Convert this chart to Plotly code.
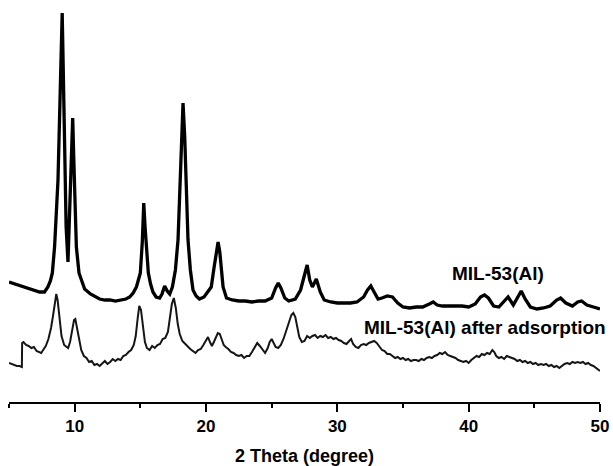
import plotly.graph_objects as go

# MIL-53(Al) pattern: (2theta, intensity a.u.)
mil53 = [
    (5.0, 120), (5.5, 118), (6.0, 116), (6.5, 114), (7.0, 112), (7.33, 110), (7.7, 110),
    (7.96, 115), (8.15, 121), (8.3, 129), (8.47, 155), (8.6, 185), (8.73, 222), (8.88, 300),
    (9.0, 385), (9.05, 389), (9.12, 340), (9.24, 222), (9.35, 175), (9.49, 140), (9.6, 185),
    (9.72, 250), (9.85, 284), (9.94, 240), (10.05, 200), (10.13, 155), (10.33, 129),
    (10.55, 120), (10.76, 113), (11.2, 108), (11.6, 105), (11.9, 103), (12.3, 102),
    (12.7, 102), (13.1, 101), (13.5, 102), (13.9, 103), (14.19, 105), (14.45, 109),
    (14.7, 115), (14.88, 122), (15.0, 129), (15.15, 160), (15.26, 199), (15.36, 175),
    (15.46, 155), (15.61, 129), (15.78, 118), (15.96, 110), (16.2, 105), (16.47, 104),
    (16.65, 108), (16.85, 116), (17.05, 111), (17.24, 108), (17.44, 115), (17.67, 132),
    (17.87, 162), (18.0, 212), (18.12, 265), (18.25, 299), (18.38, 265), (18.5, 212),
    (18.63, 162), (18.81, 132), (19.01, 112), (19.25, 106), (19.5, 103), (19.85, 105),
    (20.15, 110), (20.4, 115), (20.62, 135), (20.8, 150), (20.92, 160), (21.05, 150),
    (21.18, 130), (21.3, 115), (21.56, 104), (22.0, 102), (22.5, 101), (23.0, 101),
    (23.5, 100), (24.0, 101), (24.5, 101), (25.0, 104), (25.3, 114), (25.5, 119),
    (25.7, 114), (26.0, 104), (26.3, 101), (26.8, 103), (27.2, 112), (27.5, 127),
    (27.7, 137), (27.9, 122), (28.1, 115), (28.4, 123), (28.7, 110), (29.0, 102),
    (29.5, 100), (30.0, 99), (30.5, 99), (31.0, 99), (31.5, 100), (32.0, 105), (32.3, 112),
    (32.55, 116), (32.8, 110), (33.1, 103), (33.4, 104), (33.8, 106), (34.2, 105),
    (34.6, 99), (35.0, 95), (35.5, 94), (36.0, 95), (36.5, 95), (37.0, 98), (37.3, 100),
    (37.6, 97), (38.0, 96), (38.5, 96), (39.0, 96), (39.5, 96), (40.0, 95), (40.5, 98),
    (40.9, 105), (41.2, 107), (41.5, 104), (41.9, 96), (42.3, 95), (42.7, 101), (43.0, 105),
    (43.4, 97), (44.0, 111), (44.3, 103), (44.7, 95), (45.2, 93), (45.7, 94), (46.2, 96),
    (46.7, 102), (47.0, 104), (47.4, 99), (47.9, 96), (48.3, 100), (48.6, 101), (49.0, 97),
    (49.5, 95), (50.0, 93),
]

# MIL-53(Al) after adsorption: (2theta, intensity a.u.)
after_ads = [
    (5.0, 39), (5.2, 38), (5.4, 37), (5.6, 36), (5.8, 36), (5.98, 35), (6.0, 59), (6.1, 60),
    (6.3, 57), (6.5, 56), (6.7, 54), (6.9, 55), (7.1, 51), (7.3, 50), (7.45, 49), (7.6, 52),
    (7.8, 56), (8.0, 63), (8.2, 74), (8.35, 86), (8.5, 102), (8.6, 108), (8.7, 102),
    (8.85, 82), (9.0, 66), (9.2, 57), (9.35, 55), (9.5, 54), (9.65, 60), (9.8, 72),
    (9.95, 82), (10.05, 83), (10.15, 76), (10.3, 62), (10.5, 52), (10.7, 46), (10.9, 44),
    (11.1, 40), (11.3, 41), (11.5, 37), (11.7, 38), (11.9, 36), (12.1, 39), (12.3, 41),
    (12.5, 38), (12.7, 40), (12.9, 43), (13.1, 41), (13.3, 43), (13.5, 42), (13.7, 46),
    (13.9, 47), (14.1, 50), (14.3, 52), (14.5, 57), (14.65, 66), (14.8, 84), (14.92, 96),
    (15.05, 92), (15.2, 74), (15.35, 60), (15.5, 54), (15.7, 52), (15.9, 56), (16.1, 54),
    (16.3, 57), (16.5, 58), (16.7, 63), (16.9, 64), (17.1, 70), (17.25, 82), (17.4, 98),
    (17.55, 104), (17.7, 94), (17.85, 78), (18.0, 68), (18.2, 61), (18.4, 58), (18.6, 55),
    (18.8, 53), (19.0, 51), (19.2, 49), (19.4, 52), (19.6, 53), (19.8, 57), (20.0, 62),
    (20.15, 65), (20.3, 60), (20.45, 56), (20.6, 60), (20.75, 65), (20.9, 69), (21.05, 68),
    (21.2, 63), (21.35, 57), (21.5, 55), (21.7, 53), (21.9, 50), (22.1, 49), (22.3, 47),
    (22.5, 46), (22.7, 47), (22.9, 44), (23.1, 46), (23.3, 46), (23.5, 50), (23.7, 55),
    (23.9, 59), (24.1, 56), (24.3, 52), (24.5, 49), (24.7, 54), (24.85, 60), (25.0, 63),
    (25.15, 58), (25.3, 55), (25.5, 54), (25.7, 57), (25.9, 63), (26.1, 70), (26.3, 79),
    (26.5, 87), (26.65, 89), (26.8, 85), (26.95, 76), (27.1, 65), (27.3, 60), (27.5, 61),
    (27.7, 66), (27.9, 64), (28.1, 66), (28.3, 67), (28.5, 64), (28.7, 66), (28.9, 65),
    (29.1, 67), (29.3, 64), (29.5, 65), (29.7, 63), (29.9, 64), (30.1, 62), (30.3, 61),
    (30.5, 59), (30.7, 58), (30.9, 61), (31.05, 63), (31.2, 58), (31.4, 55), (31.6, 54),
    (31.8, 57), (32.0, 58), (32.2, 57), (32.4, 59), (32.6, 60), (32.8, 61), (33.0, 59),
    (33.2, 56), (33.4, 52), (33.6, 51), (33.8, 48), (34.0, 48), (34.2, 46), (34.4, 44),
    (34.6, 45), (34.8, 43), (35.0, 44), (35.2, 42), (35.4, 43), (35.6, 41), (35.8, 42),
    (36.0, 42), (36.2, 41), (36.4, 43), (36.6, 42), (36.8, 44), (37.0, 45), (37.2, 44),
    (37.4, 46), (37.6, 47), (37.8, 49), (38.0, 48), (38.2, 50), (38.4, 47), (38.6, 46),
    (38.8, 45), (39.0, 44), (39.2, 42), (39.4, 41), (39.6, 40), (39.8, 41), (40.0, 39),
    (40.2, 42), (40.4, 44), (40.6, 46), (40.8, 45), (41.0, 48), (41.2, 47), (41.4, 49),
    (41.6, 48), (41.8, 52), (41.95, 50), (42.1, 46), (42.3, 44), (42.5, 45), (42.7, 43),
    (42.9, 46), (43.1, 45), (43.3, 44), (43.5, 43), (43.7, 41), (43.9, 42), (44.1, 40),
    (44.3, 41), (44.5, 39), (44.7, 40), (44.9, 38), (45.1, 39), (45.3, 37), (45.5, 38),
    (45.7, 37), (45.9, 38), (46.1, 36), (46.3, 37), (46.5, 35), (46.7, 36), (46.9, 34),
    (47.1, 36), (47.3, 38), (47.5, 39), (47.7, 38), (47.9, 40), (48.1, 39), (48.3, 40),
    (48.5, 39), (48.7, 40), (48.9, 38), (49.1, 39), (49.3, 37), (49.5, 36), (49.7, 34),
    (49.85, 33), (50.0, 31),
]

labels = ["MIL-53(Al)", "MIL-53(Al) after adsorption"]
x_title = "2 Theta (degree)"
tick_values = [10, 20, 30, 40, 50]

theta_top = [p[0] for p in mil53]
int_top = [p[1] for p in mil53]
theta_bot = [p[0] for p in after_ads]
int_bot = [p[1] for p in after_ads]

fig = go.Figure()
fig.add_trace(go.Scatter(x=theta_top, y=int_top, mode="lines",
                         line=dict(color="black", width=3.3), name=labels[0]))
fig.add_trace(go.Scatter(x=theta_bot, y=int_bot, mode="lines",
                         line=dict(color="#151515", width=2), name=labels[1]))

fig.add_annotation(x=38.6, y=129, text="<b>" + labels[0] + "</b>", showarrow=False,
                   xanchor="left", yanchor="middle",
                   font=dict(family="Liberation Sans", size=19, color="black"))
fig.add_annotation(x=31.87, y=75, text="<b>" + labels[1] + "</b>", showarrow=False,
                   xanchor="left", yanchor="middle",
                   font=dict(family="Liberation Sans", size=19, color="black"))

fig.update_layout(
    width=613, height=466,
    margin=dict(l=9, r=13, t=0, b=64),
    paper_bgcolor="white", plot_bgcolor="white",
    showlegend=False,
    xaxis=dict(range=[5, 50], showline=True, linecolor="black", linewidth=2,
               ticks="outside", ticklen=8, tickwidth=2, tickcolor="black",
               tickmode="array", tickvals=tick_values,
               showgrid=False, zeroline=False,
               tickfont=dict(family="Liberation Sans", size=17, color="black", weight="bold"),
               minor=dict(ticks="outside", ticklen=4, tickwidth=2, tickcolor="black",
                          tick0=0, dtick=5, showgrid=False),
               title=dict(text="<b>" + x_title + "</b>", standoff=15,
                          font=dict(family="Liberation Sans", size=18, color="black"))),
    yaxis=dict(range=[0, 402], visible=False, showgrid=False, zeroline=False),
)

fig.write_html("out.html")
